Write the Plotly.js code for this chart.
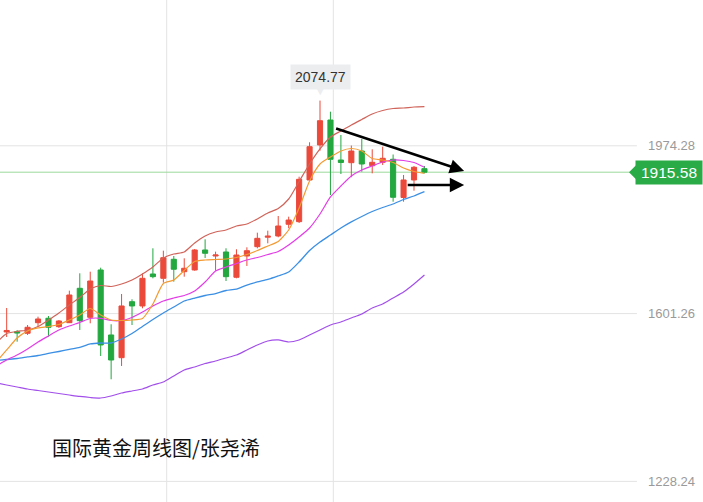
<!DOCTYPE html>
<html><head><meta charset="utf-8">
<script src="https://cdn.plot.ly/plotly-3.0.1.min.js"></script>
<style>html,body{margin:0;padding:0;background:#fff;}#chart{width:703px;height:502px;}</style>
</head><body><div id="chart"></div>
<script>
// Weekly gold candles (index = week)
const opens  = [1502.6,1560.4,1561.0,1557.5,1581.0,1590.9,1572.2,1581.0,1657.5,1593.0,1698.2,1553.7,1503.2,1627.7,1618.2,1689.3,1679.7,1722.0,1694.4,1698.2,1742.7,1729.3,1738.2,1682.0,1729.3,1750.0,1771.1,1773.8,1799.8,1805.6,1898.3,1976.1,2031.6,1942.7,1936.7,1962.7,1930.0,1937.6,1944.3,1859.3,1898.3,1923.4];
const highs  = [1564.8,1613.7,1564.8,1575.9,1594.4,1595.9,1587.0,1652.2,1690.8,1694.4,1703.3,1577.5,1644.8,1633.0,1690.8,1746.4,1741.1,1729.3,1724.2,1744.9,1766.4,1738.9,1746.4,1744.2,1748.6,1781.1,1785.6,1818.2,1816.7,1905.6,1982.1,2074.77,2050.1,1998.3,1974.9,1989.4,1966.5,1972.3,1954.9,1909.4,1929.4,1929.4];
const lows   = [1487.0,1549.2,1538.8,1553.7,1572.2,1549.9,1569.3,1580.4,1564.8,1579.7,1507.0,1455.2,1484.8,1575.9,1613.0,1679.7,1670.0,1672.2,1683.3,1696.6,1724.9,1696.6,1673.7,1679.7,1707.1,1746.4,1757.5,1770.9,1790.9,1802.7,1896.1,1963.4,1864.9,1911.6,1904.3,1916.7,1913.1,1931.6,1850.0,1850.0,1874.5,1913.1];
const closes = [1549.9,1563.7,1558.1,1570.8,1589.3,1570.8,1584.8,1642.6,1585.5,1673.7,1531.5,1498.1,1618.2,1618.2,1679.7,1683.3,1725.5,1699.8,1702.0,1742.7,1735.3,1731.5,1683.3,1731.5,1741.1,1768.6,1773.3,1796.0,1809.3,1899.8,1972.3,2030.1,1944.3,1937.2,1962.7,1933.8,1937.6,1946.5,1859.8,1898.3,1926.5,1915.58];

// Indicator lines
const upperBand = [1535.9,1557.0,1561.5,1564.8,1572.6,1587.0,1602.6,1620.4,1637.0,1655.9,1663.7,1661.5,1667.1,1675.9,1689.3,1704.8,1724.9,1733.7,1738.2,1758.2,1773.8,1782.7,1787.1,1796.0,1800.4,1811.6,1824.9,1834.9,1856.0,1894.9,1933.8,1967.2,1993.8,2007.2,2020.5,2032.8,2045.0,2052.8,2057.2,2058.3,2060.5,2061.2];
const ma5  = [1493.7,1520.4,1547.0,1562.6,1569.3,1572.6,1577.0,1587.0,1598.2,1612.6,1598.2,1587.0,1585.9,1587.0,1590.4,1622.6,1668.2,1676.0,1697.1,1717.1,1720.4,1721.5,1722.6,1726.0,1732.6,1741.5,1751.5,1761.5,1787.1,1836.0,1896.0,1933.8,1949.4,1962.7,1968.3,1962.7,1946.0,1942.7,1937.2,1924.9,1917.2,1913.1];
const ma10 = [1484.8,1498.1,1509.2,1522.6,1538.1,1551.5,1564.8,1573.7,1581.5,1590.4,1590.8,1585.9,1585.9,1592.6,1604.8,1618.2,1629.3,1635.9,1641.5,1651.5,1671.5,1695.9,1704.9,1712.6,1720.4,1726.0,1732.6,1739.3,1753.8,1771.6,1791.6,1822.7,1860.5,1884.9,1907.2,1920.5,1929.4,1938.3,1942.7,1941.6,1937.2,1926.5];
const ma20 = [1497.0,1499.2,1501.4,1504.8,1508.1,1512.6,1517.0,1521.5,1525.9,1533.7,1535.9,1535.9,1544.8,1557.0,1572.6,1588.1,1602.6,1615.9,1629.3,1635.9,1641.5,1645.9,1652.6,1655.9,1664.8,1671.5,1677.1,1684.9,1693.8,1716.0,1741.5,1760.4,1776.0,1791.6,1805.1,1817.1,1828.2,1837.1,1844.9,1854.9,1862.7,1872.3];
const ma60 = [1447.0,1442.5,1438.1,1433.6,1430.3,1427.0,1423.6,1420.3,1417.0,1414.7,1413.6,1418.1,1424.7,1429.2,1433.6,1442.5,1449.2,1462.6,1475.9,1482.6,1490.4,1495.9,1502.6,1509.2,1520.4,1531.5,1540.4,1542.6,1538.1,1542.6,1553.7,1564.8,1575.9,1582.6,1591.5,1600.4,1613.7,1622.6,1636.0,1649.3,1667.1,1687.1];

// Axis labels
const tickValues = [1228.24, 1601.26, 1974.28];
const tickLabels = ['1228.24', '1601.26', '1974.28'];
const lastPrice = 1915.58;
const peakValue = 2074.77;
const peakIndex = 31;
const titleText = '国际黄金周线图/张尧浠';

// Trend arrows: [tailX, tailY, headX, headY]
const arrowDown = [32.4, 2013.9, 44.8, 1918.3];
const arrowFlat = [39.25, 1887.1, 44.8, 1887.1];

const idx = opens.map((_, i) => i);
const RED = '#eb4a3b', GREEN = '#22a83f', TAG = '#2aab48';

const lineTrace = (y, color, w) => ({type:'scatter', mode:'lines', x: idx, y: y,
  line:{color: color, width: w || 1.1, shape:'spline', smoothing:0.6}, hoverinfo:'skip', showlegend:false});

const traces = [
  lineTrace(upperBand, '#d0645a', 1.2),
  lineTrace(ma60, '#a24fea', 1.2),
  lineTrace(ma20, '#3b8fe4', 1.3),
  lineTrace(ma10, '#e33ee6', 1.2),
  lineTrace(ma5, '#f39a32', 1.2),
  {type:'candlestick', x: idx, open: opens, high: highs, low: lows, close: closes,
   increasing:{line:{color:RED, width:1}, fillcolor:RED},
   decreasing:{line:{color:GREEN, width:1}, fillcolor:GREEN},
   whiskerwidth:0, showlegend:false, hoverinfo:'skip'}
];

const gridColor = '#e3e3e3';
const shapes = tickValues.map(v => ({type:'line', xref:'paper', yref:'y', x0:0, x1:0.906, y0:v, y1:v,
  line:{color:gridColor, width:1}, layer:'below'}));
shapes.push({type:'line', xref:'paper', yref:'paper', x0:166.7/703, x1:166.7/703, y0:0, y1:1, line:{color:gridColor, width:1}, layer:'below'});
shapes.push({type:'line', xref:'paper', yref:'paper', x0:333.3/703, x1:333.3/703, y0:0, y1:1, line:{color:gridColor, width:1}, layer:'below'});
shapes.push({type:'line', xref:'paper', yref:'y', x0:0, x1:0.896, y0:lastPrice, y1:lastPrice, line:{color:'#9cd89c', width:1}, layer:'below'});
// pointer of price tag
shapes.push({type:'path', xref:'paper', yref:'y', layer:'above',
  path:`M ${629/703} ${lastPrice} L ${638/703} ${lastPrice+20} L ${638/703} ${lastPrice-20} Z`,
  fillcolor:TAG, line:{width:0}});

const annotations = [
  {xref:'paper', yref:'y', x:1, y:lastPrice, xanchor:'right', yanchor:'middle', showarrow:false,
   text:lastPrice.toFixed(2), font:{family:'Liberation Sans, Arial', size:15.5, color:'#ffffff'},
   bgcolor:TAG, borderpad:2, width:62, height:19},
  {x:peakIndex, y:peakValue, xref:'x', yref:'y', yanchor:'middle', yshift:24, showarrow:false,
   text:peakValue.toFixed(2), font:{family:'Liberation Sans, Arial', size:14, color:'#333333'},
   bgcolor:'#ebedef', borderpad:4},
  {x:peakIndex, y:peakValue, xref:'x', yref:'y', yanchor:'middle', yshift:10, showarrow:false,
   text:'▼', font:{family:'DejaVu Sans', size:11, color:'#ebedef'}},
  {xref:'x', yref:'y', axref:'x', ayref:'y', x:arrowDown[2], y:arrowDown[3], ax:arrowDown[0], ay:arrowDown[1],
   text:'', showarrow:true, arrowhead:2, arrowsize:1.1, arrowwidth:2.6, arrowcolor:'#000'},
  {xref:'x', yref:'y', axref:'x', ayref:'y', x:arrowFlat[2], y:arrowFlat[3], ax:arrowFlat[0], ay:arrowFlat[1],
   text:'', showarrow:true, arrowhead:2, arrowsize:1.1, arrowwidth:2.6, arrowcolor:'#000'},
  {xref:'paper', yref:'paper', x:50/703, y:1-447/502, xanchor:'left', yanchor:'middle', showarrow:false,
   text:titleText, font:{family:'Noto Sans CJK SC', size:20, color:'#111111'}}
];

const layout = {
  width:703, height:502, margin:{l:0, r:0, t:0, b:0},
  paper_bgcolor:'#ffffff', plot_bgcolor:'#ffffff',
  showlegend:false, dragmode:false,
  xaxis:{range:[0.36, 67.67], showgrid:false, zeroline:false, showticklabels:false, showline:false,
         rangeslider:{visible:false}, fixedrange:true},
  yaxis:{range:[1182.4, 2298.4], side:'right', ticklabelposition:'inside', tickvals:tickValues, ticktext:tickLabels,
         showgrid:false, zeroline:false, showline:false, ticks:'', ticklabelstandoff:5,
         tickfont:{family:'Liberation Sans, Arial', size:13, color:'#9a9a9a'}, fixedrange:true},
  shapes: shapes, annotations: annotations
};

Plotly.newPlot('chart', traces, layout, {displayModeBar:false, staticPlot:true});
</script>
</body></html>
